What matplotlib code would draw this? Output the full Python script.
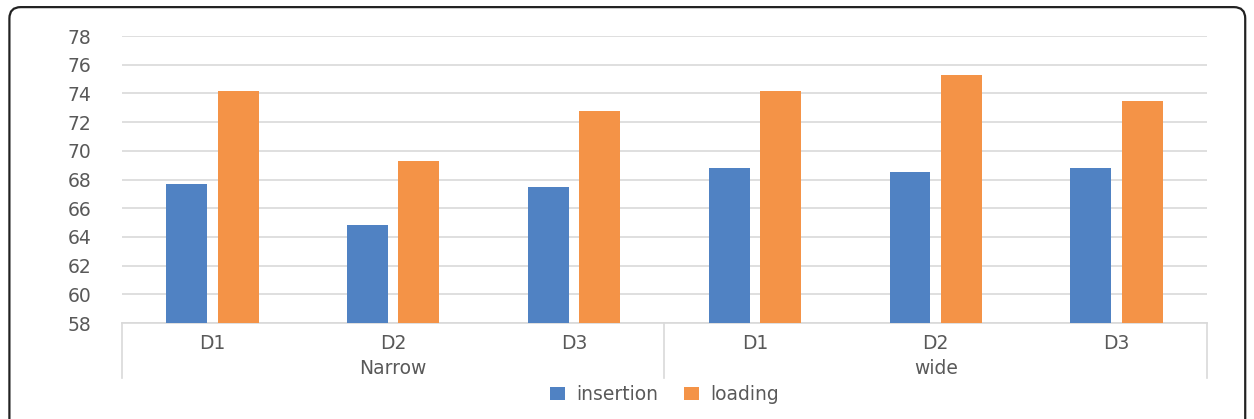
import numpy as np
import matplotlib.pyplot as plt
from matplotlib.patches import FancyBboxPatch

groups = ["Narrow", "wide"]
designs = ["D1", "D2", "D3"]
insertion = [67.7, 64.8, 67.5, 68.8, 68.5, 68.8]
loading = [74.2, 69.3, 72.8, 74.2, 75.3, 73.5]

blue = "#5082C3"
orange = "#F49347"
text_col = "#595959"
line_col = "#D9D9D9"
fs = 13.5

plt.rcParams['font.family'] = ['DejaVu Sans']

fig = plt.figure(figsize=(12.54, 4.19), dpi=100)
ax = fig.add_axes([0.0973, 0.229, 0.8652, 0.685])

x = np.arange(len(insertion))
w = 0.226
ax.bar(x - 0.142, insertion, w, color=blue, label="insertion", zorder=3)
ax.bar(x + 0.142, loading, w, color=orange, label="loading", zorder=3)

ax.set_ylim(58, 78)
ax.set_xlim(-0.5, len(x) - 0.5)
ax.set_yticks(np.arange(58, 79, 2))
ax.tick_params(axis='y', length=0, pad=22, labelsize=fs, labelcolor=text_col)
ax.tick_params(axis='x', length=0, labelbottom=False)
ax.grid(axis='y', color=line_col, linewidth=1.2, zorder=0)
for s in ["top", "right", "left"]:
    ax.spines[s].set_visible(False)
ax.spines["bottom"].set_color(line_col)
ax.spines["bottom"].set_linewidth(1.2)

# two-level category axis
trans = ax.get_xaxis_transform()
for i, xi in enumerate(x):
    ax.text(xi, -0.07, designs[i % 3], transform=trans, ha='center', va='center',
            fontsize=fs, color=text_col)
for g, name in enumerate(groups):
    ax.text(g * 3 + 1, -0.157, name, transform=trans, ha='center', va='center',
            fontsize=fs, color=text_col)
for xv in [-0.5, 2.5, 5.5]:
    ax.plot([xv, xv], [0, -0.192], transform=trans, color=line_col,
            linewidth=1.2, clip_on=False)

ax.legend(loc='center', bbox_to_anchor=(0.5, -0.25), ncol=2, frameon=False,
          fontsize=fs, labelcolor=text_col, handlelength=0.8, handleheight=0.7,
          columnspacing=1.4, handletextpad=0.6)

# rounded outer frame
frame = FancyBboxPatch((0.0075, -0.05), 0.9855, 1.033,
                       boxstyle="round,pad=0,rounding_size=0.009",
                       transform=fig.transFigure, facecolor='none',
                       edgecolor='#222222', linewidth=1.6, mutation_aspect=3)
fig.patches.append(frame)

fig.savefig("out.png", dpi=100)
